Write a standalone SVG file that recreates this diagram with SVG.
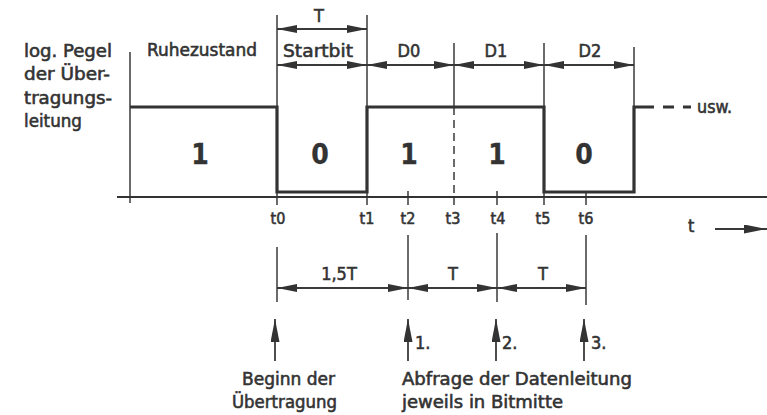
<svg xmlns="http://www.w3.org/2000/svg" width="767" height="415" viewBox="0 0 767 415">
  <style>
    text { font-family: "DejaVu Sans Condensed", "DejaVu Sans", "Liberation Sans", sans-serif; fill: #333; stroke: #333; stroke-width: 0.55; font-size: 18px; }
    .tick { font-size: 16px; text-anchor: middle; }
    .mid { text-anchor: middle; }
    .big { font-size: 28px; font-weight: bold; text-anchor: middle; stroke-width: 0.3; }
    .thin { stroke: #3a3a3a; stroke-width: 1.5; fill: none; }
    .sig { stroke: #333; stroke-width: 3.2; fill: none; stroke-linejoin: miter; }
    .axis { stroke: #333; stroke-width: 2.2; fill: none; }
    .dim { stroke: #3a3a3a; stroke-width: 1.8; fill: none; marker-start: url(#ah); marker-end: url(#ah); }
    .up { stroke: #3a3a3a; stroke-width: 1.8; fill: none; marker-end: url(#uh); }
  </style>
  <defs>
    <marker id="ah" viewBox="0 0 20 8" refX="20" refY="4" markerWidth="20" markerHeight="8" markerUnits="userSpaceOnUse" orient="auto-start-reverse">
      <path d="M0,0 L20,4 L0,8 z" fill="#333"/>
    </marker>
    <marker id="uh" viewBox="0 0 23 9" refX="23" refY="4.5" markerWidth="23" markerHeight="9" markerUnits="userSpaceOnUse" orient="auto">
      <path d="M0,0 L23,4.5 L0,9 z" fill="#333"/>
    </marker>
  </defs>
  <rect width="767" height="415" fill="#fff"/>

  <g id="ylabel">
    <text x="24" y="57" textLength="88" lengthAdjust="spacingAndGlyphs">log. Pegel</text>
    <text x="24" y="80" textLength="86" lengthAdjust="spacingAndGlyphs">der Über-</text>
    <text x="24" y="104" textLength="88" lengthAdjust="spacingAndGlyphs">tragungs-</text>
    <text x="24" y="127" textLength="58" lengthAdjust="spacingAndGlyphs">leitung</text>
  </g>

  <g id="gridlines">
    <line class="thin" x1="130" y1="52" x2="130" y2="203"/>
    <line class="thin" x1="277" y1="15" x2="277" y2="205"/>
    <line class="thin" x1="367" y1="15" x2="367" y2="205"/>
    <line class="thin" x1="454" y1="43" x2="454" y2="107"/>
    <line class="thin" x1="454" y1="107" x2="454" y2="205" stroke-dasharray="8 5"/>
    <line class="thin" x1="544" y1="43" x2="544" y2="205"/>
    <line class="thin" x1="634" y1="47" x2="634" y2="108"/>
    <line class="thin" x1="408" y1="191" x2="408" y2="205"/>
    <line class="thin" x1="497" y1="191" x2="497" y2="205"/>
    <line class="thin" x1="586" y1="191" x2="586" y2="205"/>
  </g>

  <g id="axis">
    <line class="axis" x1="117" y1="197" x2="767" y2="197"/>
  </g>

  <g id="signal">
    <path class="sig" d="M130,107 H277 V192 H367 V107 H544 V192 H634 V107 H654"/>
    <path class="sig" d="M663,107 H674 M683,107 H691"/>
    <text x="697" y="113" font-size="16" textLength="35" lengthAdjust="spacingAndGlyphs">usw.</text>
  </g>

  <g id="states">
    <text x="147" y="56" textLength="110" lengthAdjust="spacingAndGlyphs">Ruhezustand</text>
    <text x="283" y="57" textLength="70" lengthAdjust="spacingAndGlyphs">Startbit</text>
    <text class="mid" x="319" y="22">T</text>
    <text class="mid" x="409" y="57">D0</text>
    <text class="mid" x="496" y="57">D1</text>
    <text class="mid" x="590" y="57">D2</text>
    <text class="big" x="200" y="164">1</text>
    <text class="big" x="320" y="164">0</text>
    <text class="big" x="409" y="164">1</text>
    <text class="big" x="497" y="164">1</text>
    <text class="big" x="584" y="164">0</text>
  </g>

  <g id="ticklabels">
    <text class="tick" x="278" y="224">t0</text>
    <text class="tick" x="367" y="224">t1</text>
    <text class="tick" x="408" y="224">t2</text>
    <text class="tick" x="453" y="224">t3</text>
    <text class="tick" x="498" y="224">t4</text>
    <text class="tick" x="543" y="224">t5</text>
    <text class="tick" x="586" y="224">t6</text>
    <text x="688" y="232" font-size="16">t</text>
  </g>

  <g id="bottomdims">
    <line class="thin" x1="277" y1="247" x2="277" y2="302"/>
    <line class="thin" x1="408" y1="235" x2="408" y2="300"/>
    <line class="thin" x1="497" y1="233" x2="497" y2="302"/>
    <line class="thin" x1="586" y1="235" x2="586" y2="305"/>
    <text class="mid" x="339" y="280">1,5T</text>
    <text class="mid" x="453" y="280">T</text>
    <text class="mid" x="543" y="280">T</text>
  </g>

  <g id="connectors">
    <line class="dim" x1="277" y1="29" x2="367" y2="29"/>
    <line class="dim" x1="277" y1="65" x2="367" y2="65"/>
    <line class="dim" x1="367" y1="65" x2="454" y2="65"/>
    <line class="dim" x1="454" y1="65" x2="544" y2="65"/>
    <line class="dim" x1="544" y1="65" x2="634" y2="65"/>
    <line class="dim" x1="277" y1="288" x2="408" y2="288"/>
    <line class="dim" x1="408" y1="288" x2="497" y2="288"/>
    <line class="dim" x1="497" y1="288" x2="586" y2="288"/>
    <line class="up" x1="275" y1="361" x2="275" y2="319"/>
    <line class="up" x1="408" y1="361" x2="408" y2="319"/>
    <line class="up" x1="496" y1="361" x2="496" y2="319"/>
    <line class="up" x1="584" y1="361" x2="584" y2="319"/>
    <line class="up" x1="715" y1="229" x2="767" y2="229"/>
  </g>

  <g id="notes">
    <text x="415" y="349" font-size="17">1.</text>
    <text x="502" y="349" font-size="17">2.</text>
    <text x="591" y="349" font-size="17">3.</text>
    <text x="242" y="385" textLength="93" lengthAdjust="spacingAndGlyphs">Beginn der</text>
    <text x="232" y="408" textLength="105" lengthAdjust="spacingAndGlyphs">Übertragung</text>
    <text x="402" y="385" textLength="230" lengthAdjust="spacingAndGlyphs">Abfrage der Datenleitung</text>
    <text x="402" y="408" textLength="161" lengthAdjust="spacingAndGlyphs">jeweils in Bitmitte</text>
  </g>
</svg>
